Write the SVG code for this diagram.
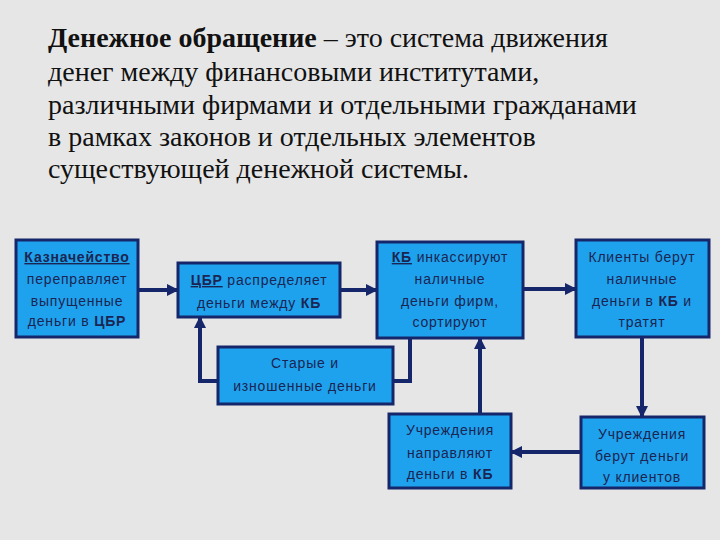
<svg xmlns="http://www.w3.org/2000/svg" width="720" height="540" viewBox="0 0 720 540">
<defs>
<style>
.bg{fill:#e6e6e6}
.box{fill:#1fa2ee;stroke:#16266a;stroke-width:3}
.t{font-family:"Liberation Sans",Arial,sans-serif;font-size:14px;fill:#1b2552;text-anchor:middle;letter-spacing:0.8px}
.b{font-weight:bold}
.u{text-decoration:underline}
.title{font-family:"Liberation Serif","Times New Roman",serif;font-size:28px;fill:#111}
.c{fill:none;stroke:#16266a;stroke-width:4}
</style>
<marker id="ah" markerUnits="userSpaceOnUse" markerWidth="12" markerHeight="12" viewBox="0 0 12 12" refX="11" refY="6" orient="auto">
<path d="M0,0 L12,6 L0,12 Z" fill="#16266a"/>
</marker>
<pattern id="noise" width="6" height="6" patternUnits="userSpaceOnUse">
<rect width="6" height="6" fill="#e6e6e6"/>
<rect x="1" y="1" width="1" height="1" fill="#d8d8d8"/>
<rect x="4" y="3" width="1" height="1" fill="#f0f0f0"/>
<rect x="2" y="4" width="1" height="1" fill="#dcdcdc"/>
</pattern>
</defs>
<rect class="bg" width="720" height="540" fill="url(#noise)"/>
<text class="title" x="48" y="47"><tspan font-weight="bold">Денежное обращение</tspan> – это система движения</text>
<text class="title" x="48" y="81">денег между финансовыми институтами,</text>
<text class="title" x="48" y="114">различными фирмами и отдельными гражданами</text>
<text class="title" x="48" y="146">в рамках законов и отдельных элементов</text>
<text class="title" x="48" y="178">существующей денежной системы.</text>

<g id="connectors">
<line class="c" x1="138" y1="290" x2="178" y2="290" marker-end="url(#ah)"/>
<line class="c" x1="340" y1="290" x2="377" y2="290" marker-end="url(#ah)"/>
<line class="c" x1="523" y1="289" x2="576" y2="289" marker-end="url(#ah)"/>
<line class="c" x1="642" y1="337" x2="642" y2="417" marker-end="url(#ah)"/>
<line class="c" x1="581" y1="452" x2="511" y2="452" marker-end="url(#ah)"/>
<line class="c" x1="480" y1="414" x2="480" y2="338" marker-end="url(#ah)"/>
<path class="c" d="M218,381 H200 V317" marker-end="url(#ah)"/>
<path class="c" d="M392,381 H410 V338"/>
</g>

<g id="n1">
<rect class="box" x="16" y="240" width="122" height="97"/>
<text class="t" x="77" y="262"><tspan class="b u">Казначейство</tspan></text>
<text class="t" x="77" y="284">переправляет</text>
<text class="t" x="77" y="306">выпущенные</text>
<text class="t" x="77" y="326">деньги в <tspan class="b">ЦБР</tspan></text>
</g>
<g id="n2">
<rect class="box" x="178" y="263" width="162" height="54"/>
<text class="t" x="259" y="285"><tspan class="b u">ЦБР</tspan> распределяет</text>
<text class="t" x="259" y="308">деньги между <tspan class="b">КБ</tspan></text>
</g>
<g id="n3">
<rect class="box" x="377" y="242" width="146" height="96"/>
<text class="t" x="450" y="262"><tspan class="b u">КБ</tspan> инкассируют</text>
<text class="t" x="450" y="284">наличные</text>
<text class="t" x="450" y="306">деньги фирм,</text>
<text class="t" x="450" y="327">сортируют</text>
</g>
<g id="n4">
<rect class="box" x="576" y="240" width="133" height="97"/>
<text class="t" x="642" y="262">Клиенты берут</text>
<text class="t" x="642" y="284">наличные</text>
<text class="t" x="642" y="306">деньги в <tspan class="b">КБ</tspan> и</text>
<text class="t" x="642" y="327">тратят</text>
</g>
<g id="n5">
<rect class="box" x="218" y="347" width="175" height="57"/>
<text class="t" x="305" y="368">Старые и</text>
<text class="t" x="305" y="391">изношенные деньги</text>
</g>
<g id="n6">
<rect class="box" x="389" y="414" width="122" height="74"/>
<text class="t" x="450" y="435">Учреждения</text>
<text class="t" x="450" y="458">направляют</text>
<text class="t" x="450" y="479">деньги в <tspan class="b">КБ</tspan></text>
</g>
<g id="n7">
<rect class="box" x="581" y="417" width="123" height="71"/>
<text class="t" x="642" y="439">Учреждения</text>
<text class="t" x="642" y="461">берут деньги</text>
<text class="t" x="642" y="482">у клиентов</text>
</g>
</svg>
